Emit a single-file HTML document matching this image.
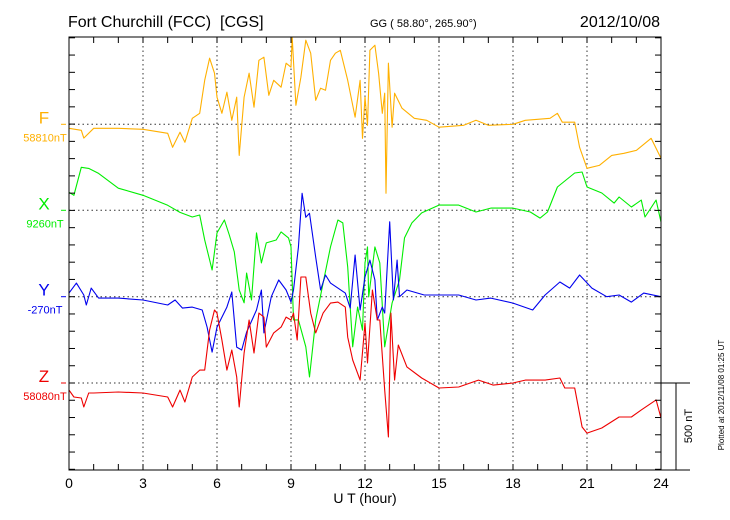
<!DOCTYPE html>
<html><head><meta charset="utf-8"><style>
body{margin:0;background:#fff;}
svg{display:block;font-family:"Liberation Sans",sans-serif;}
</style></head><body>
<svg id="chart" width="730" height="520" viewBox="0 0 730 520">
<text x="68" y="27" font-size="16">Fort Churchill (FCC)&#160;&#160;[CGS]</text>
<text x="370" y="27" font-size="11">GG ( 58.80°, 265.90°)</text>
<text x="660" y="27" font-size="16" text-anchor="end">2012/10/08</text>
<text x="365" y="503" font-size="14" text-anchor="middle">U T (hour)</text>
<text transform="translate(724,395) rotate(-90)" font-size="8" text-anchor="middle">Plotted at 2012/11/08 01:25 UT</text>
<g id="grid"></g><g id="series"></g><g id="axes"></g>
</svg>
<script>
const hours=[0,3,6,9,12,15,18,21,24];
const names=["F","X","Y","Z"];
const baseLabels=["58810nT","9260nT","-270nT","58080nT"];
const colors=["#ffb000","#00ee00","#0000ee","#ee0000"];
const fT=[0,0.5,0.6,1,2,3,4,4.2,4.5,4.7,5,5.3,5.5,5.7,5.9,6,6.2,6.4,6.6,6.8,6.9,7.1,7.3,7.5,7.7,7.9,8.1,8.3,8.6,8.8,9,9.05,9.2,9.4,9.6,9.8,10,10.2,10.4,10.6,10.8,11,11.3,11.6,11.8,11.9,12,12.1,12.2,12.4,12.55,12.7,12.8,12.85,12.95,13.1,13.2,13.5,14,14.5,15,16,16.5,17,18,18.5,19,19.5,19.8,20,20.5,20.7,21,21.5,22,22.5,23,23.6,24];
const fV=[-23,-35,-80,-23,-23,-29,-52,-133,-46,-104,35,64,255,383,296,157,64,186,23,157,-180,157,296,99,371,389,168,255,215,354,331,505,110,273,487,412,139,209,197,371,412,429,255,41,255,-81,157,-6,429,458,296,64,180,-400,354,-17,180,93,35,23,-17,-6,23,-6,0,23,29,35,64,12,12,-133,-255,-238,-180,-168,-151,-81,-197];
const xT=[0,0.2,0.5,0.8,1.2,2,3,4,4.5,5,5.3,5.5,5.8,6,6.3,6.5,6.7,6.9,7.1,7.2,7.4,7.6,7.8,8,8.4,8.6,8.9,9,9.1,9.3,9.6,9.75,10,10.3,10.6,10.9,11.1,11.3,11.5,11.7,11.9,12,12.1,12.15,12.4,12.6,12.8,13.1,13.4,13.6,13.9,14.3,15,15.8,16.5,17.1,18,18.7,19.1,19.4,19.8,20.5,20.8,21,21.6,22.1,22.3,22.8,23.2,23.35,23.8,24];
const xV=[104,87,249,243,214,128,87,29,-12,-39,-27,-172,-346,-131,-56,-143,-241,-461,-536,-363,-519,-131,-305,-189,-172,-125,-160,-212,-635,-635,-791,-965,-635,-421,-212,-56,-73,-328,-791,-560,-694,-305,-212,-502,-212,-305,-791,-537,-404,-160,-73,-15,30,30,-10,13,13,-10,-45,-10,135,216,222,135,100,42,77,19,59,-39,59,-68];
const yT=[0,0.3,0.6,0.7,0.9,1.2,2,3,4,4.3,4.6,5,5.4,5.6,5.8,6,6.4,6.6,6.8,7,7.2,7.6,7.8,7.9,8.2,8.5,8.8,9,9.1,9.3,9.45,9.6,9.75,10,10.2,10.4,10.6,10.9,11.2,11.4,11.6,11.8,12,12.2,12.4,12.5,12.7,12.8,13,13.15,13.3,13.4,13.7,14.4,15.8,16.5,17.1,18,18.8,19.3,19.9,20.3,20.7,21.2,21.8,22.3,22.8,23.3,24];
const yV=[21,79,10,-48,50,-8,-8,-19,-48,-19,-66,-60,-77,-176,-321,-176,-60,27,-292,-309,-205,-77,39,-210,0,97,39,-31,39,286,599,460,483,229,39,126,79,50,21,-66,241,-77,114,212,97,-135,-60,-95,434,-19,212,0,39,10,10,-19,-8,-37,-77,10,85,50,126,50,0,10,-31,21,0];
const zT=[0,0.2,0.5,0.6,0.8,1,2,3,4,4.2,4.5,4.7,5,5.3,5.5,5.7,5.9,6,6.2,6.4,6.6,6.8,6.9,7.1,7.3,7.5,7.7,7.9,8,8.3,8.6,8.8,9,9.1,9.25,9.4,9.6,9.8,10,10.3,10.6,10.9,11.2,11.3,11.5,11.8,12,12.1,12.3,12.5,12.6,12.8,12.95,13.05,13.2,13.35,13.7,14.3,15,15.8,16.6,17.2,18,18.5,19.3,19.9,20.1,20.5,20.8,21,21.6,22.3,22.8,23.2,23.8,24];
const zV=[-41,-81,-87,-139,-58,-58,-52,-58,-81,-139,-41,-110,35,75,75,307,423,405,249,75,191,35,-139,174,365,174,405,382,208,290,324,382,365,405,249,614,614,405,290,405,463,469,440,266,133,17,347,116,539,365,365,-41,-313,405,17,220,93,29,-29,-23,17,-12,0,17,17,29,-29,-29,-255,-290,-261,-197,-197,-156,-98,-203];
const seriesT=[fT,xT,yT,zT], seriesV=[fV,xV,yV,zV];

const L=69,R=661,T=37,B=470;
const baselines=[124.3,210.3,296.7,383];
const pxPerNT=86.3/500;
const NS="http://www.w3.org/2000/svg";
function X(h){return L+(R-L)*h/24;}
function Y(i,v){return baselines[i]-v*pxPerNT;}
function mk(tag,attrs,parent){const e=document.createElementNS(NS,tag);for(const k in attrs)e.setAttribute(k,attrs[k]);parent.appendChild(e);return e;}
const grid=document.getElementById('grid'),ser=document.getElementById('series'),ax=document.getElementById('axes');

hours.forEach(h=>{
  if(h>0&&h<24){const g=mk('line',{x1:X(h),x2:X(h),y1:T,y2:B,stroke:'#333','stroke-dasharray':'1.5,3','stroke-width':1},grid);
  
  }
  const t=mk('text',{x:X(h),y:488,'font-size':14,'text-anchor':'middle'},ax);t.textContent=h;
  
  
});
baselines.forEach((b,i)=>{
  const g=mk('line',{x1:L,x2:R,y1:b,y2:b,stroke:'#333','stroke-dasharray':'1.5,3','stroke-width':1},grid);
  
  
  const n=mk('text',{x:44,y:b-1,'font-size':17,'text-anchor':'middle',fill:colors[i]},ax);n.textContent=names[i];
  
  
  const bl=mk('text',{x:45,y:b+17,'font-size':11,'text-anchor':'middle',fill:colors[i]},ax);bl.textContent=baseLabels[i];
  
  
  const m=mk('line',{x1:L-8,x2:L-3,y1:b,y2:b,stroke:colors[i]},ax);
  
  
});
seriesT.forEach((ts,i)=>{
  const d=ts.map((t,k)=>(k?'L':'M')+X(t).toFixed(1)+','+Y(i,seriesV[i][k]).toFixed(1)).join('');
  const p=mk('path',{d:d,fill:'none',stroke:colors[i],'stroke-width':1.1,'stroke-linejoin':'round'},ser);
  
  
});
const frame=mk('rect',{x:L,y:T,width:R-L,height:B-T,fill:'none',stroke:'#000','stroke-width':1},ax);


for(let h=1;h<24;h++){
  mk('line',{x1:X(h),x2:X(h),y1:B,y2:B-6,stroke:'#000'},ax);
  mk('line',{x1:X(h),x2:X(h),y1:T,y2:T+6,stroke:'#000'},ax);
}
for(let y=383-86.3*4;y<=B;y+=86.3/5){
  mk('line',{x1:L,x2:L+6,y1:y,y2:y,stroke:'#000'},ax);
  mk('line',{x1:R,x2:R-6,y1:y,y2:y,stroke:'#000'},ax);
}
const sb=mk('g',{},ax);


mk('line',{x1:R,x2:690,y1:383,y2:383,stroke:'#000'},sb);
mk('line',{x1:R,x2:690,y1:B,y2:B,stroke:'#000'},sb);
mk('line',{x1:676,x2:676,y1:383,y2:B,stroke:'#000'},sb);
const st=mk('text',{transform:'translate(692,426) rotate(-90)','font-size':11,'text-anchor':'middle'},sb);st.textContent='500 nT';


</script>
</body></html>
